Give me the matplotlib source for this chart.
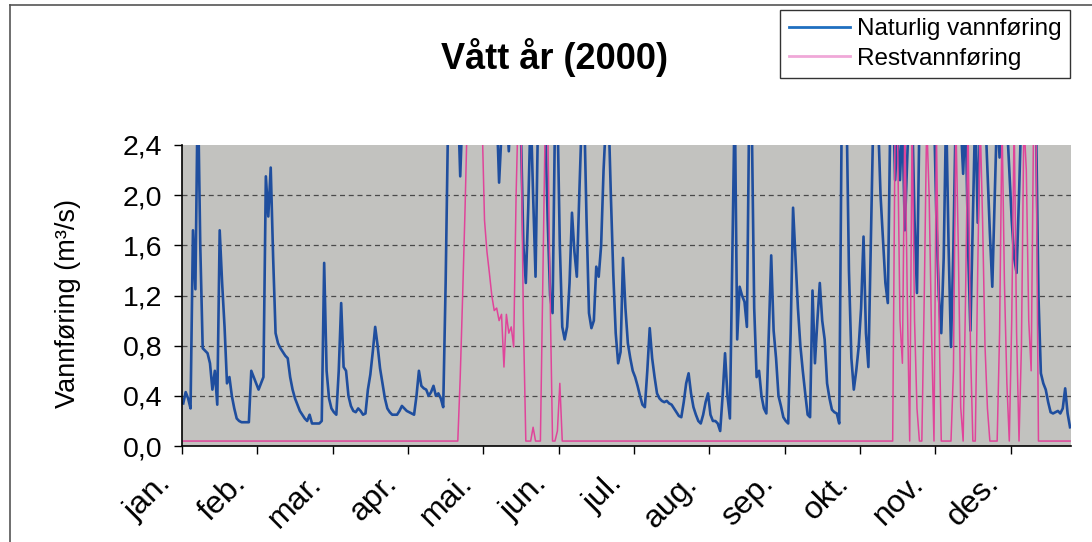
import numpy as np
import matplotlib.pyplot as plt
from matplotlib.lines import Line2D
from matplotlib.transforms import ScaledTranslation

plt.rcParams['font.family'] = ['Liberation Sans', 'DejaVu Sans']

# daglige verdier, m3/s, år 2000 (verdier over 2,4 er klippet i figuren)
naturlig_jan = [0.34, 0.43, 0.38, 0.30, 1.72, 1.25, 2.90, 1.60, 0.78, 0.76, 0.74, 0.66, 0.45, 0.60, 0.33,
                1.72, 1.30, 0.95, 0.50, 0.55, 0.40, 0.30, 0.22, 0.20, 0.19, 0.19, 0.19, 0.19, 0.60, 0.55, 0.50]
naturlig_feb = [0.45, 0.50, 0.55, 2.15, 1.83, 2.22, 1.50, 0.90, 0.82, 0.78, 0.75, 0.72, 0.70, 0.55, 0.45,
                0.38, 0.33, 0.28, 0.25, 0.22, 0.20, 0.25, 0.18, 0.18, 0.18, 0.18, 0.20, 1.46, 0.60]
naturlig_mar = [0.38, 0.30, 0.27, 0.25, 0.60, 1.14, 0.63, 0.60, 0.40, 0.32, 0.28, 0.27, 0.30, 0.28, 0.25,
                0.26, 0.45, 0.57, 0.75, 0.95, 0.80, 0.62, 0.50, 0.38, 0.30, 0.27, 0.25, 0.25, 0.25, 0.28, 0.32]
naturlig_apr = [0.30, 0.28, 0.27, 0.26, 0.25, 0.40, 0.60, 0.48, 0.46, 0.45, 0.40, 0.43, 0.48, 0.40, 0.42,
                0.38, 0.31, 1.30, 2.60, 3.00, 3.20, 3.00, 2.80, 2.15, 2.70, 3.00, 3.20, 3.40, 3.20, 3.00]
naturlig_mai = [3.00, 3.10, 2.90, 2.80, 3.00, 3.20, 3.10, 2.90, 2.70, 2.10, 2.50, 2.90, 2.70, 2.35, 2.80,
                3.00, 2.90, 2.60, 2.50, 1.60, 1.30, 1.90, 2.70, 2.00, 1.35, 2.60, 2.90, 2.80, 2.60, 1.80, 1.20]
naturlig_jun = [1.06, 2.60, 2.70, 1.60, 0.95, 0.85, 0.95, 1.30, 1.86, 1.55, 1.35, 2.00, 2.60, 2.70, 1.80,
                1.06, 0.94, 1.00, 1.43, 1.35, 1.60, 2.20, 2.60, 2.70, 2.00, 1.37, 0.90, 0.66, 0.75, 1.50]
naturlig_jul = [1.10, 0.82, 0.70, 0.60, 0.55, 0.48, 0.40, 0.33, 0.31, 0.60, 0.94, 0.70, 0.55, 0.42, 0.38,
                0.36, 0.35, 0.36, 0.34, 0.33, 0.30, 0.27, 0.24, 0.23, 0.35, 0.50, 0.58, 0.42, 0.31, 0.25, 0.20]
naturlig_aug = [0.18, 0.25, 0.35, 0.42, 0.25, 0.20, 0.20, 0.18, 0.12, 0.40, 0.74, 0.40, 0.22, 1.50, 2.80,
                0.85, 1.27, 1.20, 1.15, 0.95, 2.80, 2.60, 1.10, 0.55, 0.60, 0.40, 0.30, 0.26, 0.90, 1.52, 0.92]
naturlig_sep = [0.70, 0.40, 0.32, 0.23, 0.20, 0.18, 0.90, 1.90, 1.50, 1.10, 0.80, 0.60, 0.42, 0.25, 0.23,
                1.24, 0.66, 1.00, 1.30, 1.00, 0.85, 0.50, 0.38, 0.29, 0.27, 0.26, 0.18, 2.60, 2.90, 2.70]
naturlig_okt = [1.40, 0.70, 0.45, 0.60, 0.79, 1.10, 1.67, 0.90, 0.63, 1.60, 2.60, 2.90, 2.60, 2.00, 1.65,
                1.30, 1.14, 2.60, 2.90, 2.12, 2.50, 2.12, 2.60, 1.72, 2.30, 2.80, 2.70, 1.80, 1.22, 2.60, 2.90]
naturlig_nov = [3.00, 2.80, 2.60, 2.90, 2.70, 1.80, 1.20, 0.90, 1.50, 2.70, 1.60, 0.79, 1.60, 2.70, 2.90,
                2.60, 2.17, 2.70, 1.60, 0.92, 1.80, 2.70, 1.78, 2.60, 2.90, 2.70, 2.20, 1.70, 1.27, 2.00]
naturlig_des = [2.70, 2.30, 2.80, 2.90, 2.60, 2.20, 1.80, 1.50, 1.38, 2.00, 2.70, 2.90, 2.80, 2.60, 2.90,
                2.70, 2.60, 1.20, 0.58, 0.50, 0.45, 0.35, 0.27, 0.26, 0.27, 0.28, 0.26, 0.30, 0.46, 0.26, 0.15]

minstevann = 0.04
rest_jan = [minstevann] * 31
rest_feb = [minstevann] * 29
rest_mar = [minstevann] * 31
rest_apr = [minstevann] * 23 + [0.55, 1.20, 1.90, 2.70, 3.00, 3.10, 3.00]
rest_mai = [2.90, 2.80, 2.60, 1.80, 1.55, 1.38, 1.20, 1.08, 1.10, 1.00, 1.05, 0.63, 1.05, 0.90, 0.95,
            0.79, 2.00, 2.80, 2.60, 1.00, 0.04, 0.04, 0.04, 0.15, 0.04, 0.04, 0.04, 1.30, 2.60, 2.60, 1.20]
rest_jun = [0.04, 0.04, 0.12, 0.50] + [minstevann] * 26
rest_jul = [minstevann] * 31
rest_aug = [minstevann] * 31
rest_sep = [minstevann] * 30
rest_okt = [minstevann] * 19 + [2.60, 2.50, 1.00, 0.66, 2.60, 1.20, 0.04, 2.60, 1.00, 0.30, 0.04, 0.04]
rest_nov = [1.20, 2.60, 2.00, 0.90, 0.04, 2.50, 1.10, 0.04, 0.04, 0.04, 0.04, 0.04, 0.60, 2.60, 1.60,
            0.31, 0.04, 1.20, 2.60, 0.80, 0.04, 0.04, 1.40, 2.60, 1.80, 0.80, 0.30, 0.04, 0.04, 0.04]
rest_des = [0.04, 0.90, 2.60, 1.30, 0.50, 0.04, 1.00, 2.60, 0.90, 0.04, 0.80, 2.60, 2.20, 1.00, 0.60,
            2.60, 2.50, 0.04] + [minstevann] * 13

maaneder = ['jan.', 'feb.', 'mar.', 'apr.', 'mai.', 'jun.', 'jul.', 'aug.', 'sep.', 'okt.', 'nov.', 'des.']
y_ticks = [0.0, 0.4, 0.8, 1.2, 1.6, 2.0, 2.4]

naturlig = np.array(naturlig_jan + naturlig_feb + naturlig_mar + naturlig_apr + naturlig_mai + naturlig_jun
                    + naturlig_jul + naturlig_aug + naturlig_sep + naturlig_okt + naturlig_nov + naturlig_des)
rest = np.array(rest_jan + rest_feb + rest_mar + rest_apr + rest_mai + rest_jun
                + rest_jul + rest_aug + rest_sep + rest_okt + rest_nov + rest_des)
dager = np.arange(len(naturlig))

fig = plt.figure(figsize=(10.92, 5.42), dpi=100)
ax = fig.add_axes([0.1667, 0.177, 0.8143, 0.5555])
ax.set_facecolor('#c2c2bf')

ax.plot(dager, naturlig, color='#1f4e9e', lw=1.9, zorder=3)
ax.plot(dager, rest, color='#e0449a', lw=1.1, zorder=4)

ax.set_xlim(-0.5, len(dager) - 0.5)
ax.set_ylim(0, 2.4)
ax.set_yticks(y_ticks)
ax.set_yticklabels([f'{v:.1f}'.replace('.', ',') for v in y_ticks], fontsize=20.5)
ax.set_xticks(np.arange(0, len(dager), 31) - 0.5)
ax.set_xticklabels(maaneder, rotation=45, ha='right', rotation_mode='anchor', fontsize=23)
ax.tick_params(axis='x', length=6, width=1, pad=10)
ax.tick_params(axis='y', length=6, width=1, pad=8)
for lbl in ax.get_xticklabels():
    lbl.set_transform(lbl.get_transform() + ScaledTranslation(-19 / 72, 0, fig.dpi_scale_trans))

# stiplede hjelpelinjer (ingen ved 2,4)
for v in y_ticks[1:-1]:
    ax.axhline(v, color='#4a4a4a', linestyle=(0, (4, 3)), lw=0.9, zorder=1)
for s in ['top', 'right']:
    ax.spines[s].set_visible(False)
for s in ['left', 'bottom']:
    ax.spines[s].set_linewidth(1.2)
    ax.spines[s].set_zorder(5)

fig.text(0.508, 0.893, 'Vått år (2000)', ha='center', va='center', fontsize=26, fontweight='bold')
fig.text(0.062, 0.44, 'Vannføring (m³/s)', rotation=90, ha='center', va='center', fontsize=19.5)

handles = [Line2D([], [], color='#1f6fc0', lw=2), Line2D([], [], color='#f0a8d8', lw=2)]
leg = fig.legend(handles, ['Naturlig vannføring', 'Restvannføring'], loc='upper right',
                 bbox_to_anchor=(0.98, 0.982), fontsize=17.5, frameon=True, fancybox=False,
                 edgecolor='black', handlelength=2.5, handletextpad=0.3, borderpad=0.35,
                 labelspacing=0.3, borderaxespad=0)
leg.get_frame().set_linewidth(1.0)

# ramme rundt diagramområdet
fig.add_artist(Line2D([0.009, 0.009], [0.0, 0.99], transform=fig.transFigure, color='#555555', lw=1.2))
fig.add_artist(Line2D([0.009, 1.0], [0.99, 0.99], transform=fig.transFigure, color='#555555', lw=1.2))

fig.savefig('out.png', dpi=100)
